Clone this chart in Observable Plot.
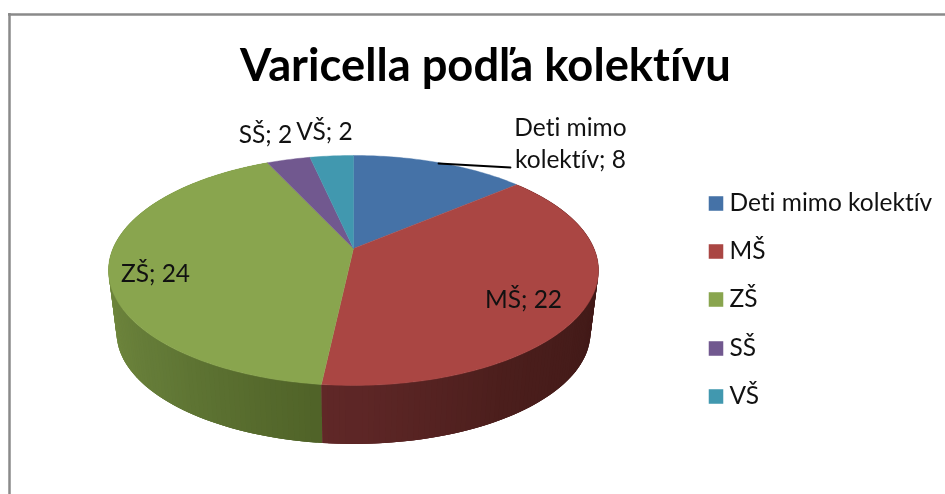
<!DOCTYPE html>
<html lang="sk">
<head>
<meta charset="utf-8">
<style>
html,body{margin:0;padding:0;background:#fff;overflow:hidden}
svg{display:block;filter:blur(0.35px)}
svg text{font-variant-ligatures:none}
</style>
<script src="https://cdn.jsdelivr.net/npm/d3@7"></script>
<script src="https://cdn.jsdelivr.net/npm/@observablehq/plot@0.6"></script>
</head>
<body>
<script>
const titleText = "Varicella podľa kolektívu";
const categories = ["Deti mimo kolektív", "MŠ", "ZŠ", "SŠ", "VŠ"];
const counts = [8, 22, 24, 2, 2];
const colors = ["#4572a7", "#aa4643", "#89a54e", "#71588f", "#4198af"];
const wallShades = [
  null,
  ["#612828", "#4b1e1c", "#421a18", "#421a18"],
  ["#506328", "#637a37", "#72893f", "#7d9a48"],
  null,
  null
];
const labelLines = [["Deti mimo", "kolektív; 8"], ["MŠ; 22"], ["ZŠ; 24"], ["SŠ; 2"], ["VŠ; 2"]];
const labelX = [570, 523, 155, 265, 324];
const labelY = [[128, 160], [300], [274], [135], [132]];
const leaderX = [438, 510];
const leaderY = [163, 167];
const legendX = 715.5, legendTextX = 729;
const legendY = [203, 251, 299, 348, 396];

// perspective disc geometry
const cx = 353, cy = 248, R = 240.5, Rv = 110.8, k = 0.191;
const bottomScale = 0.967, bottomDrop = 63;
const project = (a, s = 1, drop = 0) => {
  const w = 1 + k * Math.cos(a);
  return {x: cx + s * R * Math.sin(a) / w, y: cy + drop - s * Rv * Math.cos(a) / w};
};

const total = d3.sum(counts);
const cum = d3.cumsum(counts);
const startA = i => (i === 0 ? 0 : cum[i - 1]) / total * 2 * Math.PI;
const endA = i => cum[i] / total * 2 * Math.PI;

// top faces
const topFaces = categories.flatMap((c, i) => {
  const n = Math.max(8, Math.ceil((endA(i) - startA(i)) * 60));
  const arc = d3.range(n + 1).map(j => project(startA(i) + (endA(i) - startA(i)) * j / n));
  const apex = {x: cx, y: cy};
  return [apex, ...arc, apex].map(p => ({...p, key: c, color: colors[i]}));
});

// wall: thin shaded quads along the front rim, overlapping so no seams show
const wallQuads = categories.flatMap((c, i) => {
  if (!wallShades[i]) return [];
  const shade = d3.scaleLinear()
    .domain(d3.range(wallShades[i].length).map(j => j / (wallShades[i].length - 1)))
    .range(wallShades[i]).interpolate(d3.interpolateRgb);
  const s = startA(i), e = endA(i);
  const n = Math.ceil((e - s) * 50);
  const step = (e - s) / n;
  const out = [];
  for (let j = 0; j < n; j++) {
    const mid = s + step * (j + 0.5);
    const a0 = Math.max(s, mid - step * 1.5);
    const a1 = Math.min(e, mid + step * 1.5);
    const dist = Math.abs(mid - Math.PI * 1.034) / (Math.PI * 0.62);
    const col = shade(Math.min(1, dist));
    const pts = [project(a0), project(a1), project(a1, bottomScale, bottomDrop), project(a0, bottomScale, bottomDrop), project(a0)];
    pts.forEach(p => out.push({...p, key: `${c}-${j}`, color: col, depth: Math.cos(mid)}));
  }
  return out;
}).sort((p, q) => q.depth - p.depth);

const pieLabels = labelLines.flatMap((lines, i) => lines.map((t, j) => ({t, x: labelX[i], y: labelY[i][j]})));
const legend = categories.map((c, i) => ({c, color: colors[i], y: legendY[i]}));

const fontFamily = "Lato, Carlito, sans-serif";
const chart = Plot.plot({
  width: 945, height: 494,
  margin: 0,
  x: {domain: [0, 945], range: [0, 945], axis: null},
  y: {domain: [0, 494], range: [0, 494], axis: null},
  color: {type: "identity"},
  style: {background: "#fff", fontFamily},
  marks: [
    Plot.ruleX([9], {y1: 13, y2: 494, stroke: "#8a8a8a", strokeWidth: 2.5}),
    Plot.ruleY([14], {x1: 8, x2: 945, stroke: "#8a8a8a", strokeWidth: 2.5}),
    Plot.text([titleText], {x: 485, y: 66, text: d => d, fontSize: 45.3, fontWeight: 700, fill: "#000", fontFamily}),
    Plot.line(wallQuads, {x: "x", y: "y", z: "key", fill: "color", stroke: "none", curve: "linear"}),
    Plot.line(topFaces, {x: "x", y: "y", z: "key", fill: "color", stroke: "color", strokeWidth: 0.4, curve: "linear"}),
    Plot.line(leaderX.map((x, i) => ({x, y: leaderY[i]})), {x: "x", y: "y", stroke: "#000", strokeWidth: 1.8}),
    Plot.text(pieLabels, {x: "x", y: "y", text: "t", fontSize: 24.5, fill: "#111", fontFamily}),
    Plot.dot(legend, {x: () => legendX, y: "y", symbol: "square", r: 8.2, fill: "color", stroke: "color", strokeWidth: 0}),
    Plot.text(legend, {x: () => legendTextX, y: "y", text: "c", textAnchor: "start", fontSize: 24.5, fill: "#111", fontFamily})
  ]
});
document.body.appendChild(chart);
</script>
</body>
</html>
